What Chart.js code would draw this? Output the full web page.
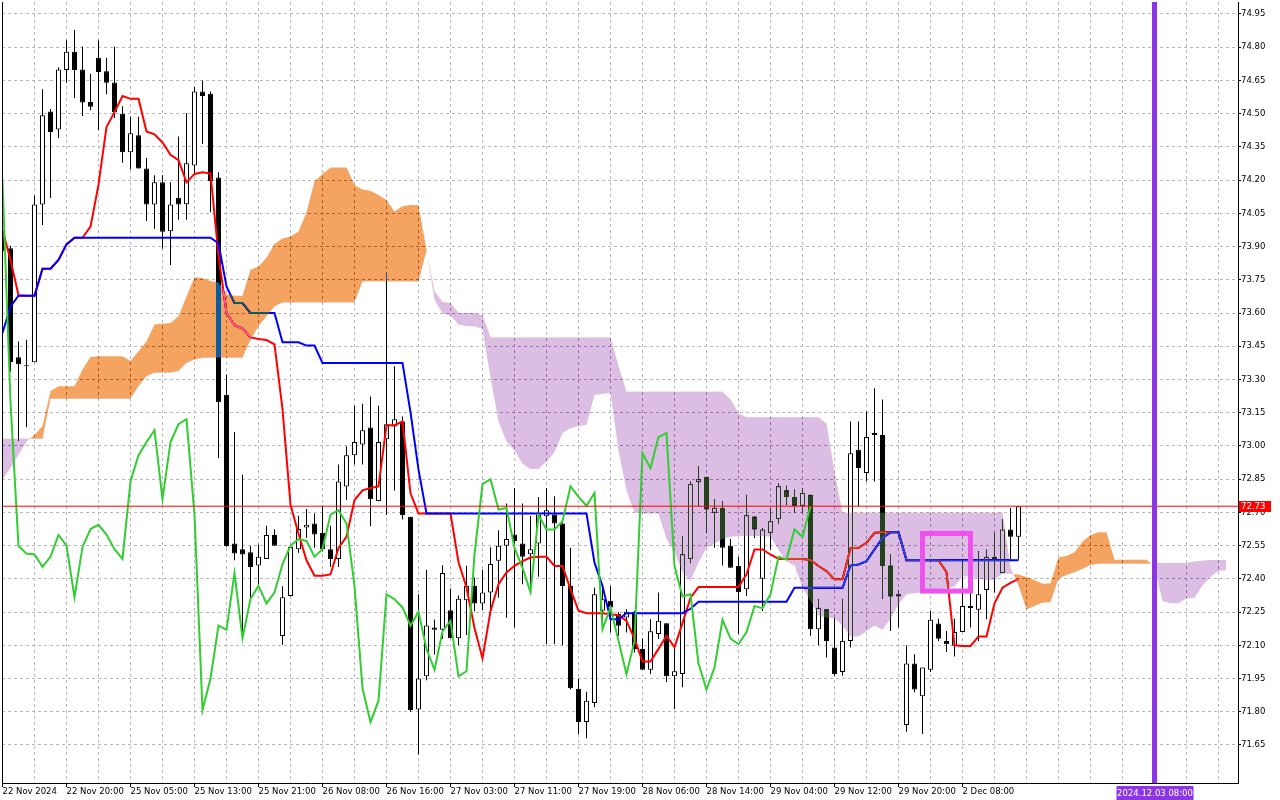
<!DOCTYPE html>
<html>
<head>
<meta charset="utf-8">
<script src="https://cdn.jsdelivr.net/npm/chart.js@4.4.1/dist/chart.umd.min.js"></script>
<style>
html,body{margin:0;padding:0;background:#ffffff;}
#wrap{width:1280px;height:800px;position:relative;overflow:hidden;}
</style>
</head>
<body>
<div id="wrap"><canvas id="c" width="1280" height="800"></canvas></div>
<script>
// ---------------- DATA (hourly bars, index 0..127) ----------------
const opens = [73.945,73.893,73.40,73.36,73.378,74.09,74.51,74.429,74.697,74.78,
74.70,74.553,74.753,74.691,74.641,74.50,74.326,74.403,74.253,74.09,
74.19,73.969,74.12,74.091,74.266,74.60,74.59,74.212,73.231,72.56,
72.534,72.52,72.46,72.49,72.598,72.142,72.323,72.534,72.632,72.65,
72.608,72.534,72.49,72.817,72.958,73.007,73.083,72.751,73.03,73.088,
73.11,72.68,71.81,71.96,72.18,72.17,72.258,72.132,72.303,72.368,
72.289,72.338,72.482,72.55,72.60,72.56,72.511,72.56,72.683,72.69,
72.65,72.368,71.904,71.754,71.84,72.256,72.301,72.241,72.226,72.251,
72.083,71.99,72.151,72.2,71.96,71.971,72.49,72.836,72.86,72.698,
72.72,72.55,72.458,72.353,72.681,72.40,72.608,72.67,72.80,72.77,
72.73,72.78,72.173,72.263,72.09,71.98,72.12,72.983,72.878,73.05,
73.05,72.46,72.32,71.74,72.018,71.87,71.99,72.198,72.12,72.098,
72.16,72.277,72.26,72.35,72.50,72.427,72.623,72.59];
const highs = [73.96,73.904,73.472,73.48,74.131,74.61,74.521,74.71,74.83,74.878,
74.803,74.68,74.83,74.753,74.803,74.533,74.486,74.486,74.30,74.222,
74.222,74.19,74.397,74.503,74.62,74.65,74.60,74.236,73.322,73.063,
72.87,72.548,72.554,72.64,72.624,72.367,72.548,72.685,72.715,72.695,
72.73,72.64,72.916,72.999,73.182,73.19,73.223,73.182,73.78,73.36,
73.133,72.68,72.33,72.441,72.216,72.462,72.356,72.325,72.459,72.406,
72.441,72.543,72.619,72.74,72.81,72.74,72.684,72.77,72.81,72.773,
72.653,72.54,71.95,71.89,72.36,72.368,72.368,72.25,72.263,72.256,
72.131,72.218,72.338,72.2,72.091,72.594,72.84,72.91,72.86,72.76,
72.75,72.58,72.50,72.78,72.681,72.63,72.72,72.83,72.82,72.803,
72.81,72.78,72.308,72.263,72.225,72.31,73.11,73.11,73.155,73.26,
73.21,72.51,72.35,72.10,72.06,72.0,72.255,72.22,72.165,72.22,
72.48,72.338,72.525,72.533,72.608,72.67,72.72,72.728];
const lows = [73.87,73.335,73.024,73.085,73.378,73.998,74.119,74.39,74.64,74.571,
74.49,74.516,74.426,74.588,74.48,74.278,74.248,74.252,74.016,73.98,
73.89,73.817,74.021,74.021,74.222,74.363,74.055,72.946,72.544,72.484,
72.132,72.303,72.363,72.49,72.55,72.102,72.32,72.518,72.584,72.54,
72.524,72.454,72.454,72.756,72.916,72.916,72.637,72.75,72.688,72.799,
72.668,71.80,71.607,71.942,72.059,72.128,72.132,72.10,72.147,72.254,
72.259,72.254,72.315,72.224,72.18,72.376,72.346,72.41,72.106,72.106,
72.10,71.90,71.70,71.68,71.82,72.181,72.158,72.143,72.158,72.068,
71.99,71.971,72.128,71.934,71.813,71.911,72.47,72.728,72.608,72.54,
72.46,72.45,72.15,72.323,72.585,72.255,72.533,72.65,72.735,72.698,
72.70,72.143,72.10,72.045,71.963,71.963,72.09,72.728,72.84,72.84,
72.31,72.165,72.18,71.71,71.888,71.70,71.98,72.12,72.07,72.05,
72.16,72.18,72.12,72.218,72.338,72.427,72.487,72.487];
const closes = [73.878,73.378,73.369,73.362,74.09,74.493,74.417,74.70,74.78,74.697,
74.55,74.531,74.688,74.64,74.507,74.326,74.412,74.252,74.09,74.19,
73.967,74.09,74.09,74.276,74.60,74.58,74.196,73.197,72.548,72.514,
72.51,72.454,72.50,72.598,72.55,72.317,72.544,72.625,72.644,72.60,
72.534,72.49,72.84,72.958,73.018,73.071,72.759,73.018,73.098,73.121,
72.688,71.808,71.95,72.189,72.17,72.426,72.132,72.31,72.368,72.289,
72.338,72.467,72.55,72.58,72.571,72.50,72.534,72.69,72.71,72.65,
72.368,71.906,71.754,71.85,72.33,72.308,72.271,72.188,72.251,72.083,
71.99,72.163,72.211,71.96,71.983,72.511,72.828,72.85,72.713,72.72,
72.54,72.45,72.34,72.687,72.623,72.623,72.66,72.818,72.77,72.73,
72.788,72.173,72.27,72.12,71.97,72.12,72.967,72.90,73.04,73.058,
72.458,72.32,72.33,72.018,71.90,72.0,72.215,72.13,72.105,72.16,
72.277,72.268,72.33,72.50,72.488,72.623,72.59,72.728];

// Tenkan-sen (red), Kijun-sen (blue), bars 0..127
const tenkan = [73.975,73.84,73.68,73.678,73.678,73.80,73.80,73.84,73.91,73.94,
73.94,73.99,74.18,74.44,74.507,74.58,74.567,74.567,74.42,74.407,
74.37,74.314,74.29,74.19,74.228,74.236,74.23,73.86,73.60,73.545,
73.53,73.49,73.483,73.478,73.458,73.166,72.735,72.604,72.484,72.414,
72.414,72.42,72.54,72.59,72.756,72.80,72.81,72.817,73.094,73.094,
73.11,72.786,72.695,72.695,72.695,72.695,72.695,72.475,72.361,72.178,
72.041,72.254,72.376,72.429,72.459,72.48,72.496,72.50,72.50,72.458,
72.458,72.353,72.256,72.245,72.245,72.245,72.24,72.236,72.21,72.13,
72.027,72.027,72.084,72.143,72.091,72.20,72.315,72.363,72.363,72.363,
72.363,72.363,72.363,72.42,72.533,72.533,72.51,72.49,72.49,72.49,
72.49,72.485,72.458,72.435,72.398,72.398,72.538,72.54,72.563,72.608,
72.61,72.61,72.61,72.484,72.484,72.484,72.484,72.484,72.43,72.10,
72.097,72.097,72.14,72.14,72.29,72.36,72.382,72.40];
const kijun = [73.51,73.63,73.678,73.678,73.678,73.80,73.80,73.84,73.91,73.94,
73.94,73.94,73.94,73.94,73.94,73.94,73.94,73.94,73.94,73.94,
73.94,73.94,73.94,73.94,73.94,73.94,73.94,73.915,73.72,73.645,
73.645,73.60,73.60,73.60,73.60,73.468,73.468,73.468,73.453,73.453,
73.375,73.375,73.375,73.375,73.375,73.375,73.375,73.375,73.375,73.375,
73.375,73.152,72.893,72.695,72.695,72.695,72.695,72.695,72.695,72.695,
72.695,72.695,72.695,72.695,72.695,72.695,72.695,72.695,72.695,72.695,
72.695,72.695,72.695,72.695,72.473,72.368,72.218,72.218,72.245,72.245,
72.245,72.245,72.245,72.245,72.245,72.245,72.265,72.297,72.297,72.297,
72.297,72.297,72.297,72.297,72.297,72.297,72.297,72.297,72.297,72.36,
72.36,72.36,72.36,72.36,72.36,72.36,72.46,72.465,72.48,72.533,
72.585,72.61,72.61,72.484,72.484,72.484,72.484,72.484,72.484,72.484,
72.484,72.484,72.484,72.484,72.484,72.484,72.484,72.484];
// Chikou span (green), plotted on bars 0..101
const chikou = [74.196,73.197,72.548,72.514,72.51,72.454,72.50,72.598,72.55,72.317,
72.544,72.625,72.644,72.60,72.534,72.49,72.84,72.958,73.018,73.071,
72.759,73.018,73.098,73.121,72.688,71.808,71.95,72.189,72.17,72.426,
72.132,72.31,72.368,72.289,72.338,72.467,72.55,72.58,72.571,72.50,
72.534,72.69,72.71,72.65,72.368,71.906,71.754,71.85,72.33,72.308,
72.271,72.188,72.251,72.083,71.99,72.163,72.211,71.96,71.983,72.511,
72.828,72.85,72.713,72.72,72.54,72.45,72.34,72.687,72.623,72.623,
72.66,72.818,72.77,72.73,72.788,72.173,72.27,72.12,71.97,72.12,
72.967,72.90,73.04,73.058,72.458,72.32,72.33,72.018,71.90,72.0,
72.215,72.13,72.105,72.16,72.277,72.268,72.33,72.50,72.488,72.623,
72.59,72.728];
// Senkou span A / B, bars 0..153 (cloud runs 26 bars ahead)
const spanA = [72.85,72.90,72.96,73.02,73.05,73.09,73.248,73.27,73.27,73.27,
73.345,73.402,73.405,73.405,73.405,73.405,73.383,73.428,73.473,73.548,
73.552,73.555,73.585,73.675,73.762,73.758,73.745,73.738,73.685,73.678,
73.678,73.795,73.81,73.85,73.912,73.937,73.945,73.968,74.055,74.195,
74.228,74.257,74.257,74.257,74.178,74.158,74.152,74.133,74.11,74.058,
74.082,74.088,74.088,73.886,73.66,73.598,73.59,73.548,73.542,73.54,
73.528,73.31,73.11,73.02,72.98,72.92,72.896,72.896,72.93,72.97,
73.058,73.08,73.09,73.096,73.23,73.235,73.24,72.98,72.80,72.70,
72.695,72.695,72.695,72.58,72.52,72.43,72.39,72.475,72.54,72.56,
72.58,72.59,72.593,72.593,72.593,72.593,72.59,72.53,72.48,72.46,
72.36,72.30,72.235,72.225,72.222,72.19,72.14,72.14,72.165,72.19,
72.17,72.22,72.285,72.33,72.335,72.34,72.345,72.35,72.36,72.365,
72.41,72.412,72.40,72.395,72.395,72.423,72.423,72.42,72.408,72.395,
72.378,72.38,72.498,72.503,72.52,72.568,72.598,72.61,72.61,72.486,
72.486,72.486,72.486,72.486,72.457,72.30,72.29,72.29,72.312,72.315,
72.37,72.41,72.435,72.44];
const spanB = [73.033,73.033,73.033,73.033,73.033,73.033,73.213,73.213,73.213,73.213,
73.213,73.213,73.213,73.213,73.213,73.213,73.213,73.27,73.315,73.33,
73.33,73.33,73.338,73.375,73.39,73.398,73.398,73.398,73.398,73.398,
73.398,73.48,73.54,73.585,73.63,73.648,73.648,73.648,73.648,73.648,
73.648,73.648,73.648,73.648,73.648,73.742,73.742,73.742,73.742,73.742,
73.742,73.742,73.742,73.88,73.70,73.65,73.645,73.60,73.60,73.60,
73.59,73.49,73.49,73.49,73.49,73.49,73.49,73.49,73.49,73.49,
73.49,73.49,73.49,73.49,73.49,73.49,73.49,73.36,73.245,73.245,
73.245,73.245,73.245,73.245,73.245,73.245,73.245,73.245,73.245,73.245,
73.245,73.21,73.148,73.13,73.13,73.13,73.13,73.13,73.13,73.13,
73.13,73.13,73.13,73.10,72.88,72.698,72.698,72.698,72.698,72.698,
72.698,72.698,72.698,72.698,72.698,72.698,72.698,72.698,72.698,72.698,
72.698,72.698,72.698,72.698,72.698,72.698,72.45,72.37,72.262,72.277,
72.292,72.295,72.40,72.418,72.43,72.445,72.463,72.468,72.468,72.468,
72.468,72.468,72.468,72.468,72.47,72.472,72.472,72.472,72.472,72.478,
72.482,72.485,72.485,72.485];

// time-axis labels (one every 8 bars, starting at bar 0)
const timeLabels = ["22 Nov 2024","22 Nov 20:00","25 Nov 05:00","25 Nov 13:00","25 Nov 21:00",
"26 Nov 08:00","26 Nov 16:00","27 Nov 03:00","27 Nov 11:00","27 Nov 19:00","28 Nov 06:00",
"28 Nov 14:00","29 Nov 04:00","29 Nov 12:00","29 Nov 20:00","2 Dec 08:00"];
const priceTicks = [74.95,74.80,74.65,74.50,74.35,74.20,74.05,73.90,73.75,73.60,73.45,73.30,
73.15,73.00,72.85,72.70,72.55,72.40,72.25,72.10,71.95,71.80,71.65];
// objects on the chart (in bar / price units)
const markerBar = 144;
const markerText = "2024.12.03 08:00";
const boxBars = [115, 121];
const boxPrices = [72.345, 72.605];

// ---------------- CHART ----------------
const FONT = {family: "DejaVu Sans", size: 8.5};
const GRID = "#bcb5c0";
const lastPrice = closes[closes.length - 1];
const pts = arr => arr.map((v, i) => ({x: i, y: v}));
const labelAt = v => (v % 8 === 0 && v / 8 < timeLabels.length) ? timeLabels[v / 8] : "";

const mt5 = {
  id: "mt5",
  beforeDraw(chart) {
    const c = chart.ctx;
    c.save(); c.fillStyle = "#ffffff"; c.fillRect(0, 0, chart.width, chart.height); c.restore();
  },
  afterDatasetDraw(chart, args) {
    // cloud is painted in XOR-like mode (as MT5 does) right after the kijun line
    if (args.index === 5) chart.ctx.globalCompositeOperation = "difference";
    else if (args.index === 1) chart.ctx.globalCompositeOperation = "source-over";
  },
  afterDatasetsDraw(chart) {
    const {ctx, chartArea: a, scales: {x, y}} = chart;
    ctx.save();
    ctx.globalCompositeOperation = "source-over";
    const x1 = x.getPixelForValue(boxBars[0]), x2 = x.getPixelForValue(boxBars[1]);
    const y1 = y.getPixelForValue(boxPrices[1]), y2 = y.getPixelForValue(boxPrices[0]);
    ctx.strokeStyle = "#f050ee"; ctx.lineWidth = 5;
    ctx.strokeRect(x1, y1, x2 - x1, y2 - y1);
    const mx = x.getPixelForValue(markerBar);
    ctx.fillStyle = "#8b35e6";
    ctx.fillRect(mx - 2.5, a.top, 5, a.bottom - a.top);
    ctx.strokeStyle = "#000"; ctx.lineWidth = 1;
    ctx.beginPath(); ctx.moveTo(a.left + 0.5, a.top); ctx.lineTo(a.left + 0.5, a.bottom); ctx.stroke();
    ctx.restore();
  },
  afterDraw(chart) {
    const {ctx, chartArea: a, scales: {x, y}} = chart;
    ctx.save();
    ctx.font = "8.5px 'DejaVu Sans'";
    ctx.textBaseline = "middle";
    const py = y.getPixelForValue(lastPrice);
    ctx.fillStyle = "#ff0000";
    ctx.fillRect(a.right + 1, Math.round(py) - 5, 32, 11);
    ctx.fillStyle = "#ffffff"; ctx.textAlign = "left";
    ctx.fillText(lastPrice.toFixed(2), a.right + 3, Math.round(py) + 0.5);
    const mx = x.getPixelForValue(markerBar);
    ctx.fillStyle = "#8b35e6";
    ctx.fillRect(mx - 38, a.bottom + 3, 77, 14);
    ctx.fillStyle = "#ffffff"; ctx.textAlign = "center";
    ctx.fillText(markerText, mx + 0.5, a.bottom + 10.5);
    ctx.restore();
  }
};

const cfg = {
  type: "bar",
  data: {
    datasets: [
      {type: "line", label: "Senkou B", data: pts(spanB), borderColor: "rgba(0,0,0,0)", borderWidth: 0,
       pointRadius: 0, fill: false, order: 9},
      {type: "line", label: "Senkou A", data: pts(spanA), borderColor: "rgba(0,0,0,0)", borderWidth: 0,
       pointRadius: 0, fill: {target: 0, above: "rgb(11,91,159)", below: "rgb(35,66,28)"}, order: 3},
      {type: "bar", label: "wicks", data: highs.map((h, i) => ({x: i, y: [lows[i], h]})),
       backgroundColor: "#000000", borderWidth: 0, barThickness: 1, grouped: false, inflateAmount: 0, order: 8},
      {type: "bar", label: "bodies", data: opens.map((o, i) => ({x: i, y: [o, closes[i]]})),
       backgroundColor: opens.map((o, i) => closes[i] >= o ? "#ffffff" : "#000000"),
       borderColor: "#000000", borderWidth: 1, borderSkipped: false, barThickness: 5, grouped: false,
       minBarLength: 1, inflateAmount: 0, order: 7},
      {type: "line", label: "Tenkan-sen", data: pts(tenkan), borderColor: "#ff0000", borderWidth: 2,
       pointRadius: 0, tension: 0, fill: false, order: 5},
      {type: "line", label: "Kijun-sen", data: pts(kijun), borderColor: "#0000ff", borderWidth: 2,
       pointRadius: 0, tension: 0, fill: false, order: 4},
      {type: "line", label: "Chikou Span", data: pts(chikou), borderColor: "#32cd32", borderWidth: 2,
       pointRadius: 0, tension: 0, fill: false, order: 2},
      {type: "line", label: "Price", data: [{x: -5, y: lastPrice}, {x: 200, y: lastPrice}],
       borderColor: "#ff0000", borderWidth: 1, pointRadius: 0, fill: false, order: 1}
    ]
  },
  options: {
    responsive: false,
    animation: false,
    devicePixelRatio: 1,
    events: [],
    layout: {padding: {left: 2, top: 2, right: 0, bottom: 0}},
    plugins: {legend: {display: false}, tooltip: {enabled: false}},
    scales: {
      x: {
        type: "linear", min: -0.0625, max: 154.4375, offset: false,
        afterBuildTicks: s => { const t = []; for (let k = 0; k <= 152; k += 4) t.push({value: k}); s.ticks = t; },
        afterFit: s => { s.height = 17; s.paddingLeft = 0; s.paddingRight = 0; },
        grid: {offset: false, color: GRID, lineWidth: 1, drawTicks: true, tickLength: 4, tickBorderDash: [],
               tickColor: c => (c.tick && labelAt(c.tick.value) !== "") ? "#000000" : "rgba(0,0,0,0)"},
        border: {display: true, color: "#000000", width: 1, dash: [3, 3]},
        ticks: {autoSkip: false, maxRotation: 0, minRotation: 0, align: "start", padding: 0,
                color: "#000000", font: FONT, callback: v => labelAt(v)}
      },
      y: {
        type: "linear", position: "right", min: 71.47845, max: 75.00417,
        afterBuildTicks: s => { s.ticks = priceTicks.map(v => ({value: v})); },
        afterFit: s => { s.width = 42; s.paddingTop = 0; s.paddingBottom = 0; },
        grid: {color: GRID, lineWidth: 1, drawTicks: true, tickLength: 3, tickColor: "#000000", tickBorderDash: []},
        border: {display: true, color: "#000000", width: 1, dash: [3, 3]},
        ticks: {padding: 0, color: "#000000", font: FONT, callback: v => v.toFixed(2)}
      }
    }
  },
  plugins: [mt5]
};

new Chart(document.getElementById("c"), cfg);
</script>
</body>
</html>
